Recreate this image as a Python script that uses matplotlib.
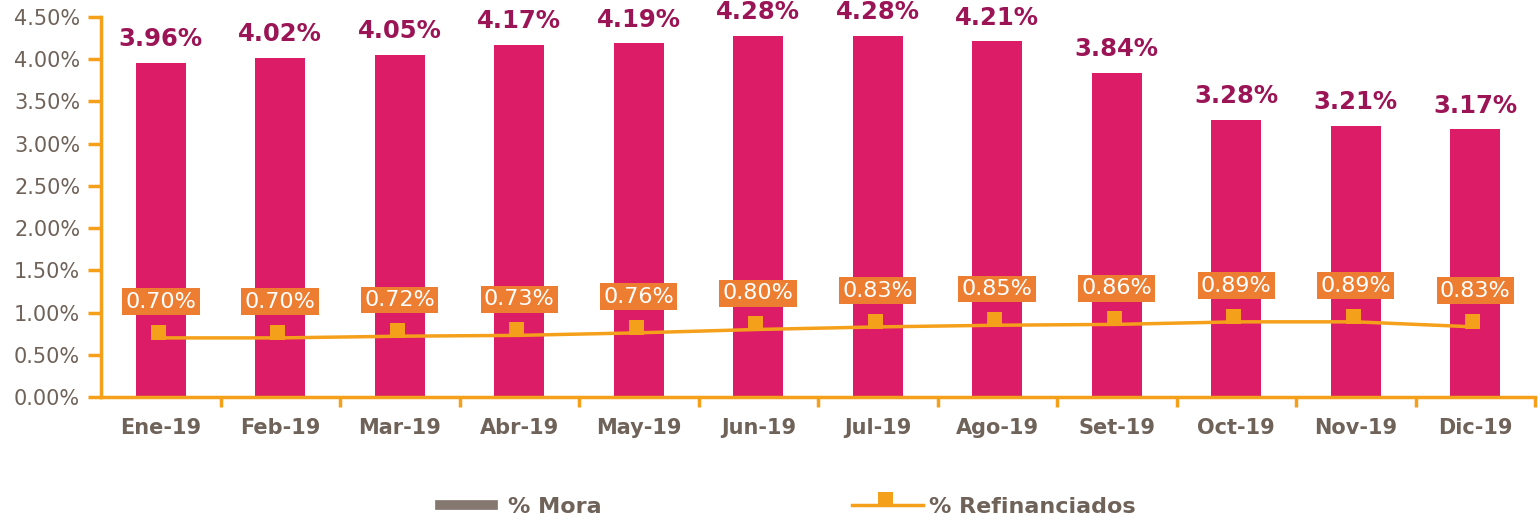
import matplotlib
matplotlib.use("Agg")
import matplotlib.pyplot as plt
import numpy as np
from matplotlib.path import Path
from matplotlib.lines import Line2D

months = ["Ene-19", "Feb-19", "Mar-19", "Abr-19", "May-19", "Jun-19",
          "Jul-19", "Ago-19", "Set-19", "Oct-19", "Nov-19", "Dic-19"]
mora = [3.96, 4.02, 4.05, 4.17, 4.19, 4.28, 4.28, 4.21, 3.84, 3.28, 3.21, 3.17]
refin = [0.70, 0.70, 0.72, 0.73, 0.76, 0.80, 0.83, 0.85, 0.86, 0.89, 0.89, 0.83]
yticks = [0.0, 0.5, 1.0, 1.5, 2.0, 2.5, 3.0, 3.5, 4.0, 4.5]

BAR = "#DC1C66"
LINE = "#F5A01A"
BOX = "#ED7D31"
LAB = "#9B1556"
GRAY = "#6E6259"

plt.rcParams['font.family'] = ['DejaVu Sans']
fig = plt.figure(figsize=(15.38, 5.2), dpi=100)
ax = fig.add_axes([101/1538, 123/520, (1535-101)/1538, (397-17)/520])

x = np.arange(len(months))
ax.bar(x, mora, width=0.42, color=BAR, zorder=2)

# offset square marker (as in the original Excel rendering)
mverts = [(-10, -2), (5, -2), (5, 13), (-10, 13), (-10, -2)]
mpath = Path(mverts, [Path.MOVETO, Path.LINETO, Path.LINETO, Path.LINETO, Path.CLOSEPOLY])
ax.plot(x, refin, color=LINE, lw=2.5, marker=mpath, ms=18.7,
        markeredgewidth=0, markerfacecolor=LINE, zorder=3)

for xi, v in zip(x, mora):
    ax.annotate(f"{v:.2f}%", (xi, v), xytext=(0, 17), textcoords="offset points",
                ha="center", va="center", fontsize=17.5, fontweight="bold", color=LAB)

for xi, v in zip(x, refin):
    ax.annotate(f"{v:.2f}%", (xi, v), xytext=(0, 26), textcoords="offset points",
                ha="center", va="center", fontsize=16, color="white", zorder=4,
                bbox=dict(boxstyle="square,pad=0.15", fc=BOX, ec="none"))

ax.set_xlim(-0.5, len(months) - 0.5)
ax.set_ylim(0, 4.5)
ax.set_yticks(yticks)
ax.set_yticklabels([f"{t:.2f}%" for t in yticks])
ax.set_xticks(x)
ax.set_xticklabels(months)
ax.set_xticks(np.arange(0.5, len(months), 1.0), minor=True)

for s in ["top", "right"]:
    ax.spines[s].set_visible(False)
for s in ["left", "bottom"]:
    ax.spines[s].set_color(LINE)
    ax.spines[s].set_linewidth(2.5)

ax.tick_params(axis="y", direction="out", length=9.5, width=2.5, color=LINE,
               labelsize=15, labelcolor=GRAY, pad=5.5)
ax.tick_params(axis="x", which="major", length=0, labelsize=15, labelcolor=GRAY, pad=15)
ax.tick_params(axis="x", which="minor", direction="out", length=7, width=2.5, color=LINE)
for lbl in ax.get_xticklabels():
    lbl.set_fontweight("bold")

# legend
h1 = Line2D([], [], color="#857870", lw=7)
h2 = Line2D([], [], color=LINE, lw=2.5, marker=mpath, ms=18.7, markeredgewidth=0,
            markerfacecolor=LINE)
leg1 = fig.legend([h1], ["% Mora"], loc="center left", bbox_to_anchor=(440/1538, 13/520),
                  frameon=False, borderpad=0, borderaxespad=0, handlelength=2.4,
                  handletextpad=0.65, prop=dict(size=16, weight="bold"))
leg2 = fig.legend([h2], ["% Refinanciados"], loc="center left",
                  bbox_to_anchor=(852/1538, 13/520), frameon=False, borderpad=0,
                  borderaxespad=0, handlelength=3.2, handletextpad=0.25,
                  prop=dict(size=16, weight="bold"))
for lg in (leg1, leg2):
    for t in lg.get_texts():
        t.set_color(GRAY)

fig.savefig("out.png", dpi=100)
